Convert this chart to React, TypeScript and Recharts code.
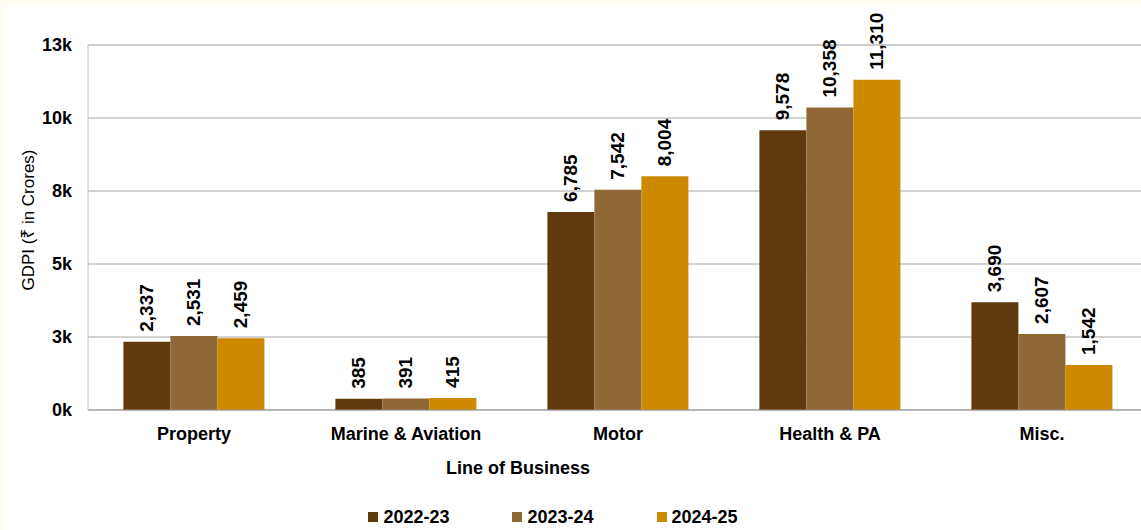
import React from 'react';
import {
    BarChart, Bar, XAxis, YAxis, CartesianGrid, Legend, LabelList, Label, ReferenceLine
} from 'recharts';

const categories = ['Property', 'Marine & Aviation', 'Motor', 'Health & PA', 'Misc.'];
const fy2223 = [2337, 385, 6785, 9578, 3690];
const fy2324 = [2531, 391, 7542, 10358, 2607];
const fy2425 = [2459, 415, 8004, 11310, 1542];
const yTicks = [0, 2500, 5000, 7500, 10000, 12500];

const series = [
    { key: 'fy2223', name: '2022-23', color: '#5f3a0c' },
    { key: 'fy2324', name: '2023-24', color: '#8e6935' },
    { key: 'fy2425', name: '2024-25', color: '#ce8900' },
];

const data = categories.map((name, i) => ({
    name,
    fy2223: fy2223[i],
    fy2324: fy2324[i],
    fy2425: fy2425[i],
}));

const FONT = 'Arial, "Liberation Sans", "Noto Sans", sans-serif';

// vertical value label above each bar
const ValueLabel = (props: any) => {
    const { x, y, width, value } = props;
    const cx = x + width / 2;
    const ty = y - 10;
    return (
        <text
            x={cx}
            y={ty}
            transform={`rotate(-90, ${cx}, ${ty})`}
            textAnchor="start"
            dominantBaseline="central"
            fontFamily={FONT}
            fontSize={19}
            fontWeight="bold"
            fill="#000"
        >
            {Number(value).toLocaleString('en-US')}
        </text>
    );
};

const LegendContent = (props: any) => {
    const { payload } = props;
    return (
        <div style={{ height: 26, display: 'flex', justifyContent: 'center', alignItems: 'center', gap: 63, paddingRight: 47 }}>
            {(payload || []).map((p: any) => (
                <div key={p.value} style={{ display: 'flex', alignItems: 'center' }}>
                    <span style={{ width: 10, height: 10, background: p.color, display: 'inline-block', marginRight: 5 }} />
                    <span style={{ fontFamily: FONT, fontSize: 18, fontWeight: 'bold', color: '#000' }}>{p.value}</span>
                </div>
            ))}
        </div>
    );
};

export default function App() {
    return (
        <div style={{ position: 'absolute', left: 0, top: 0, width: 1141, height: 530, background: '#fffcf2', overflow: 'hidden' }}>
            <div style={{ position: 'absolute', left: 5, top: 5, width: 1143, height: 525, background: '#ffffff' }}>
                <BarChart
                    width={1143}
                    height={525}
                    data={data}
                    margin={{ top: 40, right: 0, left: 0, bottom: 0 }}
                    barCategoryGap="16.7%"
                    barGap={0}
                >
                    <CartesianGrid vertical={false} stroke="#a6a6a6" />
                    <ReferenceLine y={12500} stroke="#c8c8c8" />
                    <XAxis
                        dataKey="name"
                        height={94}
                        tickLine={false}
                        tickSize={0}
                        tickMargin={17}
                        axisLine={{ stroke: '#999999' }}
                        tick={{ fill: '#000', fontSize: 18, fontWeight: 'bold', fontFamily: FONT }}
                        interval={0}
                    >
                        <Label
                            value="Line of Business"
                            position="insideBottom"
                            offset={30}
                            dx={-100}
                            style={{ fill: '#000', fontSize: 18, fontWeight: 'bold', fontFamily: FONT }}
                        />
                    </XAxis>
                    <YAxis
                        width={83}
                        domain={[0, 12500]}
                        ticks={yTicks}
                        tickLine={false}
                        tickSize={0}
                        tickMargin={16}
                        axisLine={{ stroke: '#c0c0c0' }}
                        tickFormatter={(v: number) => `${Math.round(v / 1000)}k`}
                        tick={{ fill: '#000', fontSize: 18, fontWeight: 'bold', fontFamily: FONT }}
                    >
                        <Label
                            content={() => (
                                <text
                                    x={23}
                                    y={215}
                                    transform="rotate(-90, 23, 215)"
                                    textAnchor="middle"
                                    dominantBaseline="central"
                                    fontFamily={FONT}
                                    fontSize={17}
                                    fill="#000"
                                >
                                    GDPI (₹ in Crores)
                                </text>
                            )}
                        />
                    </YAxis>
                    <Legend verticalAlign="bottom" content={<LegendContent />} />
                    {series.map(s => (
                        <Bar key={s.key} dataKey={s.key} name={s.name} fill={s.color} isAnimationActive={false}>
                            <LabelList dataKey={s.key} content={<ValueLabel />} />
                        </Bar>
                    ))}
                </BarChart>
            </div>
        </div>
    );
}
